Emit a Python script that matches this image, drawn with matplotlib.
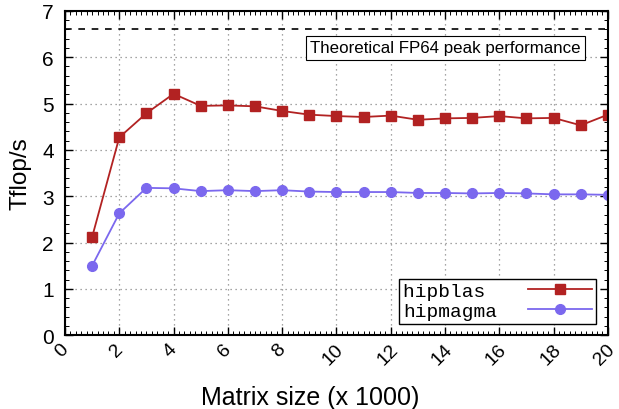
import matplotlib
matplotlib.use("Agg")
import matplotlib.pyplot as plt
from matplotlib.ticker import MultipleLocator
from matplotlib.transforms import ScaledTranslation

sizes = list(range(1, 21))
hipblas = [2.12, 4.27, 4.79, 5.21, 4.95, 4.96, 4.94, 4.84, 4.76, 4.73,
           4.71, 4.74, 4.65, 4.68, 4.69, 4.73, 4.68, 4.69, 4.53, 4.76]
hipmagma = [1.50, 2.63, 3.18, 3.17, 3.11, 3.13, 3.11, 3.13, 3.10, 3.09,
            3.09, 3.09, 3.07, 3.07, 3.06, 3.07, 3.06, 3.04, 3.04, 3.03]
peak = 6.6
peak_label = "Theoretical FP64 peak performance"

plt.rcParams["font.family"] = ["Liberation Sans", "DejaVu Sans"]

fig = plt.figure(figsize=(6.19, 4.10), dpi=100)
ax = fig.add_axes([0.105, 0.18, 0.877, 0.791])

ax.axhline(peak, color="black", ls=(0, (4, 4)), lw=1.2)
ax.text(19.0, 6.04, peak_label, ha="right", va="bottom", fontsize=12.2,
        bbox=dict(boxstyle="square,pad=0.25", fc="white", ec="black", lw=0.8))

l1, = ax.plot(sizes, hipblas, "s-", color="#b22222", ms=7, lw=1.3)
l2, = ax.plot(sizes, hipmagma, "o-", color="#7b68ee", ms=7, lw=1.3)

ax.set_xlim(0, 20)
ax.set_ylim(0, 7)
ax.xaxis.set_major_locator(MultipleLocator(2))
ax.xaxis.set_minor_locator(MultipleLocator(0.2))
ax.yaxis.set_major_locator(MultipleLocator(1))
ax.yaxis.set_minor_locator(MultipleLocator(0.2))
ax.tick_params(which="both", direction="in", top=True, right=True)
ax.tick_params(which="major", length=6, width=1, labelsize=15)
ax.tick_params(axis="y", which="major", pad=8)
ax.tick_params(which="minor", length=3, width=0.7)
# rotated x labels, nudged a few px left so "20" stays inside the figure
shift = ScaledTranslation(-3 / 100, 0, fig.dpi_scale_trans)
for lbl in ax.get_xticklabels():
    lbl.set_rotation(45)
    lbl.set_ha("center")
    lbl.set_fontsize(14)
    lbl.set_transform(lbl.get_transform() + shift)
ax.grid(True, which="major", ls=(0, (1, 3)), color="#888888", lw=0.9)
for s in ax.spines.values():
    s.set_linewidth(1.5)

ax.set_xlabel("Matrix size (x 1000)", fontsize=18)
ax.xaxis.set_label_coords(0.452, -0.155)
ax.set_ylabel("Tflop/s", fontsize=17.5, labelpad=8)

# pad the shorter name so the monospace labels line up on the left
leg = ax.legend([l1, l2], ["hipblas ", "hipmagma"], loc="lower right",
                prop={"family": "Liberation Mono", "size": 14},
                markerfirst=False, fancybox=False, edgecolor="black",
                framealpha=1, handlelength=3.3, borderaxespad=0.6,
                borderpad=0.2, labelspacing=0.1, handletextpad=1.6)
leg.get_frame().set_linewidth(1.0)

fig.savefig("out.png", dpi=100)
